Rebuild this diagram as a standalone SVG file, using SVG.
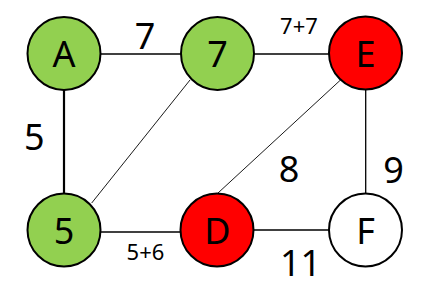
<svg xmlns="http://www.w3.org/2000/svg" width="427" height="308" viewBox="0 0 427 308">
<style>
.n{stroke:#000;stroke-width:2}
.g{fill:#92D050}
.r{fill:#FF0000}
.w{fill:#FFFFFF}
.t{font-family:"Noto Sans","DejaVu Sans",sans-serif;font-size:36px;text-anchor:middle;fill:#000}
.s{font-family:"Noto Sans","DejaVu Sans",sans-serif;font-size:22px;text-anchor:middle;fill:#000}
.e{stroke:#000;fill:none}
</style>
<rect width="427" height="308" fill="#fff"/>
<g id="edges">
<line class="e" x1="64" y1="54" x2="218" y2="54" stroke-width="1.5"/>
<line class="e" x1="64" y1="54" x2="64" y2="230" stroke-width="2.2"/>
<line class="e" x1="218" y1="54" x2="332" y2="54" stroke-width="1.5"/>
<line class="e" x1="91.7" y1="203" x2="190" y2="80" stroke-width="0.9" stroke="#333"/>
<line class="e" x1="218" y1="193" x2="343" y2="77.7" stroke-width="0.9" stroke="#333"/>
<line class="e" x1="365.7" y1="90" x2="365.7" y2="193" stroke-width="1.3"/>
<line class="e" x1="64" y1="232" x2="217" y2="232" stroke-width="1.5"/>
<line class="e" x1="217" y1="230" x2="335" y2="230" stroke-width="1.5"/>
</g>
<g id="nodeA"><circle class="n g" cx="64" cy="53.5" r="36.5"/><text class="t" x="64" y="67">A</text></g>
<g id="node7"><circle class="n g" cx="217.5" cy="53.5" r="36.5"/><text class="t" x="217.5" y="67">7</text></g>
<g id="nodeE"><circle class="n r" cx="365.5" cy="53" r="36.5"/><text class="t" x="365.5" y="67">E</text></g>
<g id="node5"><circle class="n g" cx="64" cy="230" r="36.5"/><text class="t" x="64" y="244">5</text></g>
<g id="nodeD"><circle class="n r" cx="217" cy="230" r="36.5"/><text class="t" x="217.5" y="244">D</text></g>
<g id="nodeF"><circle class="n w" cx="365.5" cy="230" r="36.5"/><text class="t" x="365.5" y="244">F</text></g>
<g id="labels">
<text class="t" x="145" y="49">7</text>
<text class="s" x="299" y="34">7+7</text>
<text class="t" x="34.3" y="150">5</text>
<text class="t" x="289" y="182">8</text>
<text class="t" x="393.5" y="183">9</text>
<text class="t" x="300.5" y="276">11</text>
<text class="s" x="145.5" y="260">5+6</text>
</g>
</svg>
